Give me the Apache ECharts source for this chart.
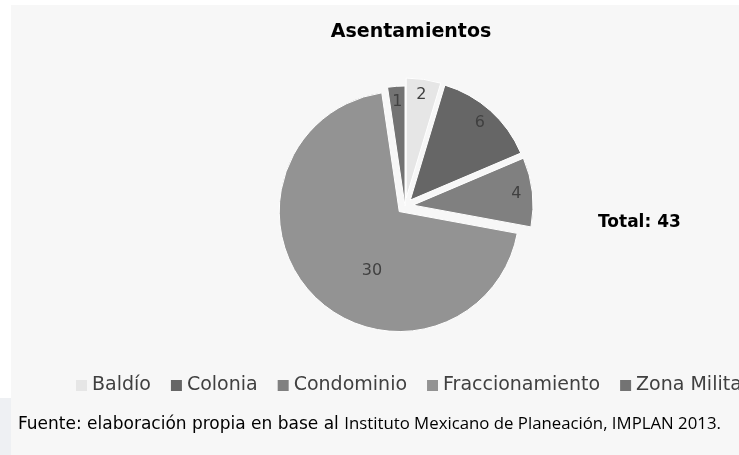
<!DOCTYPE html>
<html>
<head>
<meta charset="utf-8">
<script src="https://cdn.jsdelivr.net/npm/echarts@6/dist/echarts.min.js"></script>
<style>
  html, body { margin: 0; padding: 0; background: #ffffff; }
  #chart { width: 739px; height: 455px; }
</style>
</head>
<body>
<div id="chart"></div>
<script>
// Settlement types and their counts
const categories = ['Baldío', 'Colonia', 'Condominio', 'Fraccionamiento', 'Zona Militar'];
const values = [2, 6, 4, 30, 1];
const sliceColors = ['#e6e6e6', '#666666', '#808080', '#939393', '#737373'];
// which slices are pulled out of the pie
const exploded = [true, true, true, true, false];
const chartTitle = 'Asentamientos';
const sourceLead = 'Fuente: elaboración propia en base al ';
const sourceTail = 'Instituto Mexicano de Planeación, IMPLAN 2013.';

const total = values.reduce((a, b) => a + b, 0);
// big slices carry their label mid-radius, small ones near the rim
const bigSlice = 10;

const textColor = '#404040';
const baseFont = 'DejaVu Sans';
const center = [405, 206];
const radiusOuter = 120;

function sliceData(showWhen, extraLabel) {
  return categories.map((name, i) => ({
    name: name,
    value: values[i],
    selected: exploded[i],
    label: Object.assign({ show: showWhen(values[i]) }, extraLabel || {})
  }));
}

const labelStyle = {
  position: 'inside',
  color: textColor,
  fontFamily: baseFont,
  fontSize: 16,
  formatter: '{c}'
};

const chart = echarts.init(document.getElementById('chart'), null, { renderer: 'canvas' });
chart.setOption({
  animation: false,
  backgroundColor: 'transparent',
  color: sliceColors,
  graphic: [
    { type: 'rect', left: 11, top: 5, shape: { width: 728, height: 450 }, style: { fill: '#f7f7f7' }, z: -10 },
    { type: 'rect', left: 0, top: 398, shape: { width: 11, height: 57 }, style: { fill: '#eef0f3' }, z: -10 },
    {
      type: 'text', left: 598, top: 214,
      style: { text: 'Total: ' + total, font: 'bold 17px "DejaVu Sans"', fill: '#000000' }
    },
    {
      type: 'text', left: 18, top: 416,
      style: {
        text: '{a|' + sourceLead + '}{b|' + sourceTail + '}',
        rich: {
          a: { fontFamily: baseFont, fontSize: 17, color: textColor, verticalAlign: 'bottom' },
          b: { fontFamily: 'Open Sans', fontSize: 16.8, color: textColor, verticalAlign: 'bottom' }
        }
      }
    }
  ],
  title: {
    text: chartTitle,
    left: 406,
    textAlign: 'center',
    top: 18,
    textStyle: { fontFamily: baseFont, fontWeight: 'bold', fontSize: 19, color: '#000000' }
  },
  legend: {
    left: 76,
    top: 376,
    padding: 0,
    width: 1200,
    orient: 'horizontal',
    icon: 'rect',
    itemWidth: 11,
    itemHeight: 11,
    itemGap: 20,
    selectedMode: false,
    data: categories,
    itemStyle: { borderWidth: 0 },
    textStyle: { fontFamily: baseFont, fontSize: 19, color: textColor }
  },
  series: [
    {
      type: 'pie',
      center: center,
      radius: [0, radiusOuter],
      startAngle: 90,
      clockwise: true,
      selectedMode: 'multiple',
      selectedOffset: 8,
      avoidLabelOverlap: false,
      itemStyle: { borderColor: '#ffffff', borderWidth: 1 },
      select: { itemStyle: { borderColor: '#ffffff', borderWidth: 1 } },
      emphasis: { disabled: true },
      label: labelStyle,
      labelLine: { show: false },
      // nudge the large label toward the slice's upper part
      data: sliceData(v => v >= bigSlice, { padding: [0, 0, 0, 36], lineHeight: 32, formatter: '\n{c}' })
    },
    {
      type: 'pie',
      center: center,
      radius: [82, radiusOuter],
      startAngle: 90,
      clockwise: true,
      selectedMode: 'multiple',
      selectedOffset: 8,
      avoidLabelOverlap: false,
      silent: true,
      itemStyle: { color: 'rgba(0,0,0,0)', borderWidth: 0 },
      select: { itemStyle: { color: 'rgba(0,0,0,0)', borderWidth: 0 } },
      emphasis: { disabled: true },
      label: labelStyle,
      labelLine: { show: false },
      data: sliceData(v => v < bigSlice)
    }
  ]
});
</script>
</body>
</html>
